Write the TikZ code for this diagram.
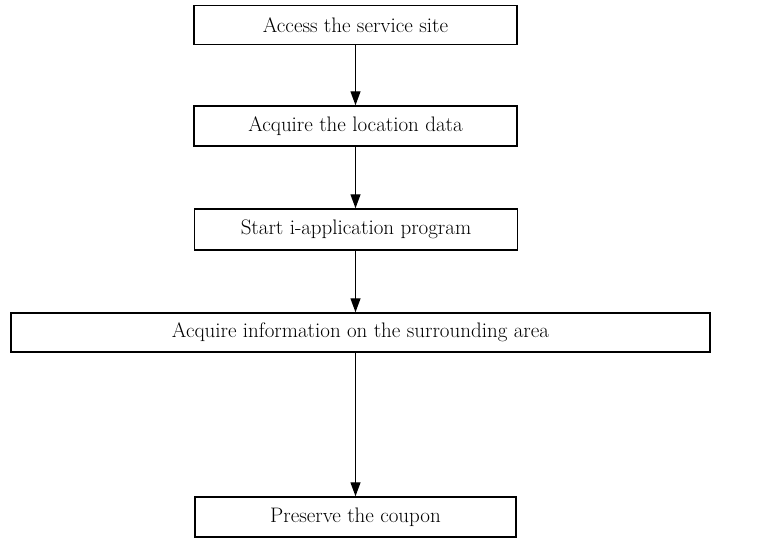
\documentclass[tikz,border=0pt]{standalone}
\usetikzlibrary{arrows.meta}
\begin{document}
\begin{tikzpicture}[x=1pt,y=-1pt,
  stepbox/.style={draw, line width=1.5pt, inner sep=0pt, align=center,
    font=\fontsize{21}{25}\selectfont, minimum height=39pt},
  flow/.style={line width=1.3pt, -{Triangle[width=10pt,length=14pt]}}]
\useasboundingbox (0,0) rectangle (766,544);

% five process steps, top to bottom
\node[stepbox, minimum width=323pt] (b1) at (355.5,25) {Access the service site};
\node[stepbox, minimum width=323pt, minimum height=40pt] (b2) at (355.5,126) {Acquire the location data};
\node[stepbox, minimum width=323pt, minimum height=41pt] (b3) at (356,229.5) {Start i-application program};
\node[stepbox, minimum width=699pt] (b4) at (360.5,332.5) {Acquire information on the surrounding area};
\node[stepbox, minimum width=321pt, minimum height=40pt] (b5) at (355.5,517) {Preserve the coupon};

% connectors, all on one vertical axis
\draw[flow] (b1.south) -- (b2.north);
\draw[flow] (b2.south) -- (b3.north -| b2.south);
\draw[flow] (b3.south -| b2.south) -- (b4.north -| b2.south);
\draw[flow] (b4.south -| b5.north) -- (b5.north);
\end{tikzpicture}
\end{document}
